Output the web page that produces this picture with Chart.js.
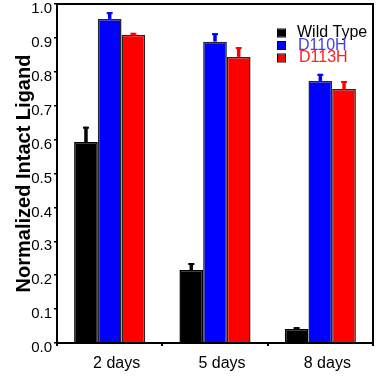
<!DOCTYPE html>
<html>
<head>
<meta charset="utf-8">
<script src="https://cdn.jsdelivr.net/npm/chart.js@4.4.1/dist/chart.umd.min.js"></script>
<style>
  html, body { margin: 0; padding: 0; background: #fff; }
  #wrap { width: 376px; height: 376px; }
</style>
</head>
<body>
<div id="wrap"><canvas id="my-Ligand-Chart" width="376" height="376"></canvas></div>
<script>
// data
const days = ['2 days', '5 days', '8 days'];
const wildType = [0.593, 0.215, 0.041];
const wildTypeErr = [0.045, 0.021, 0.006];
const d110h = [0.956, 0.889, 0.773];
const d110hErr = [0.02, 0.025, 0.021];
const d113h = [0.909, 0.844, 0.749];
const d113hErr = [0.006, 0.029, 0.024];
const yTickValues = [0, 0.1, 0.2, 0.3, 0.4, 0.5, 0.6, 0.7, 0.8, 0.9, 1.0];

const seriesNames = ['Wild Type', 'D110H', 'D113H'];
const barColors = ['#000000', '#0000ff', '#ff0000'];
const legendTextColors = ['#000000', '#4040ee', '#ff2020'];

// error bars (one-sided, upward)
const errorBars = {
    id: 'errorBars',
    afterDatasetsDraw(chart) {
        const ctx = chart.ctx;
        const y = chart.scales.y;
        chart.data.datasets.forEach((ds, i) => {
            const meta = chart.getDatasetMeta(i);
            meta.data.forEach((bar, j) => {
                const top = y.getPixelForValue(ds.data[j] + ds.errors[j]);
                ctx.save();
                ctx.strokeStyle = ds.backgroundColor;
                ctx.lineWidth = 3.5;
                ctx.beginPath();
                ctx.moveTo(bar.x, bar.y);
                ctx.lineTo(bar.x, top);
                ctx.stroke();
                ctx.lineWidth = 2;
                ctx.beginPath();
                ctx.moveTo(bar.x - 3, top + 1);
                ctx.lineTo(bar.x + 3, top + 1);
                ctx.stroke();
                ctx.restore();
            });
        });
    }
};

// box round the plot + legend inside
const frameAndLegend = {
    id: 'frameAndLegend',
    afterDraw(chart) {
        const ctx = chart.ctx;
        const a = chart.chartArea;
        ctx.save();
        ctx.strokeStyle = '#000';
        ctx.lineWidth = 2;
        ctx.strokeRect(a.left, a.top, a.right - a.left, a.bottom - a.top);

        const x0 = a.right - 95;
        ctx.font = '16px "Liberation Sans", Arial, sans-serif';
        ctx.textBaseline = 'middle';
        ctx.textAlign = 'left';
        seriesNames.forEach((name, i) => {
            const cy = a.top + 29 + i * 12.5;
            ctx.fillStyle = barColors[i];
            ctx.fillRect(x0, cy - 3.5, 7, 7);
            ctx.lineWidth = 1;
            ctx.strokeStyle = '#000';
            ctx.strokeRect(x0 - 0.5, cy - 4, 8, 8);
            ctx.fillStyle = legendTextColors[i];
            ctx.fillText(name, x0 + 19 + i, cy);
        });
        ctx.restore();
    }
};

const values = [wildType, d110h, d113h];
const errs = [wildTypeErr, d110hErr, d113hErr];

const datasets = seriesNames.map((name, i) => ({
    label: name,
    data: values[i],
    errors: errs[i],
    backgroundColor: barColors[i],
    borderColor: i === 0 ? '#000' : '#262626',
    borderWidth: 1.5,
    categoryPercentage: 0.675,
    barPercentage: 1.0
}));

const ctx = document.getElementById('my-Ligand-Chart').getContext('2d');
new Chart(ctx, {
    type: 'bar',
    data: {
        labels: days,
        datasets: datasets
    },
    options: {
        responsive: false,
        animation: false,
        layout: { padding: { top: 4, right: 3, left: 0, bottom: 0 } },
        plugins: {
            legend: { display: false },
            tooltip: { enabled: false }
        },
        scales: {
            x: {
                afterFit: s => { s.height = 33; },
                grid: {
                    drawOnChartArea: false,
                    tickLength: 3,
                    color: '#000',
                    lineWidth: 2
                },
                border: { display: true, color: '#000', width: 2 },
                ticks: {
                    color: '#000',
                    padding: 8,
                    labelOffset: 7,
                    font: { family: '"Liberation Sans", Arial, sans-serif', size: 16 }
                }
            },
            y: {
                min: 0,
                max: 1,
                afterFit: s => { s.width = 57; s.paddingTop = 0; s.paddingBottom = 0; },
                afterBuildTicks: s => { s.ticks = yTickValues.map(v => ({ value: v })); },
                grid: {
                    drawOnChartArea: false,
                    tickLength: 3,
                    color: '#000',
                    lineWidth: 1.5
                },
                border: { display: true, color: '#000', width: 2 },
                ticks: {
                    color: '#000',
                    padding: 2,
                    labelOffset: 5,
                    callback: v => v.toFixed(1),
                    font: { family: '"Liberation Sans", Arial, sans-serif', size: 15 }
                },
                title: {
                    display: true,
                    text: 'Normalized Intact Ligand',
                    color: '#000',
                    padding: { top: 12, bottom: 0 },
                    font: { family: '"Liberation Sans", Arial, sans-serif', size: 20, weight: 'bold' }
                }
            }
        }
    },
    plugins: [errorBars, frameAndLegend]
});
</script>
</body>
</html>
